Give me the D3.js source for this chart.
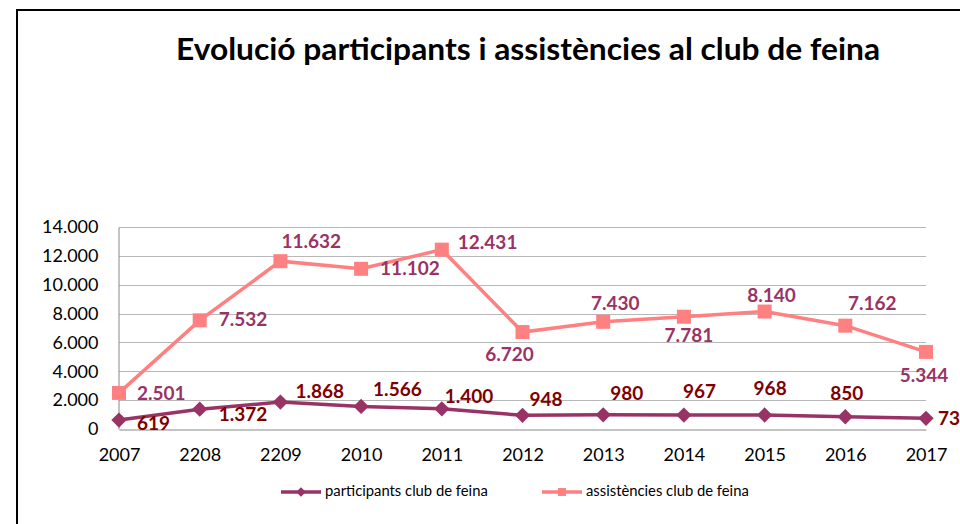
<!DOCTYPE html>
<html>
    <head>
        <script src="https://d3js.org/d3.v7.min.js"></script>
        <style>
            body { margin: 0; background: white; }
            svg text { font-family: Lato, "Open Sans", sans-serif; }
        </style>
    </head>

    <body>

        <div id="chart-container"></div>

        <script>

            // Data
            var years = ["2007", "2208", "2209", "2010", "2011", "2012", "2013", "2014", "2015", "2016", "2017"];
            var participants = [619, 1372, 1868, 1566, 1400, 948, 980, 967, 968, 850, 737];
            var assistencies = [2501, 7532, 11632, 11102, 12431, 6720, 7430, 7781, 8140, 7162, 5344];
            var yTicks = [0, 2000, 4000, 6000, 8000, 10000, 12000, 14000];
            var seriesNames = ["participants club de feina", "assistències club de feina"];

            // label placement (dx, dy from the marker, anchor)
            var partLabelPos = [
                [18, 5, "start"], [19, 7, "start"], [15, -9, "start"], [12, -15, "start"],
                [3, -11, "start"], [7, -14, "start"], [7, -20, "start"], [-1, -22, "start"],
                [-11, -25, "start"], [-15, -22, "start"], [12, 2, "start"]
            ];
            var asstLabelPos = [
                [18, 2, "start"], [19, 1, "start"], [1, -18, "start"], [19, 1, "start"],
                [16, -6, "start"], [-13, 24, "middle"], [12, -17, "middle"], [5, 20, "middle"],
                [7, -14, "middle"], [27, -21, "middle"], [-2, 25, "middle"]
            ];

            var width = 960, height = 524;
            var margin = {top: 227, left: 119, right: 34, bottom: 95};

            var svg = d3.select("#chart-container")
                .append("svg")
                    .attr("width", width)
                    .attr("height", height);

            // outer frame
            svg.append("rect")
                .attr("x", 17)
                .attr("y", 10)
                .attr("width", 1000)
                .attr("height", 600)
                .attr("fill", "white")
                .attr("stroke", "black")
                .attr("stroke-width", 2);

            svg.append("text")
                .attr("x", 528)
                .attr("y", 60)
                .attr("text-anchor", "middle")
                .attr("font-size", 30)
                .attr("font-weight", "bold")
                .attr("textLength", 704)
                .attr("lengthAdjust", "spacingAndGlyphs")
                .text("Evolució participants i assistències al club de feina");

            var x = d3.scalePoint()
                .domain(years)
                .range([margin.left, width - margin.right]);

            var y = d3.scaleLinear()
                .domain([0, 14000])
                .range([height - margin.bottom, margin.top]);

            // gridlines
            svg.append("g")
                .selectAll("line")
                .data(yTicks.slice(1))
                .enter()
                .append("line")
                    .attr("x1", margin.left)
                    .attr("x2", width - margin.right)
                    .attr("y1", function(d) { return Math.round(y(d)) + 0.5; })
                    .attr("y2", function(d) { return Math.round(y(d)) + 0.5; })
                    .attr("stroke", "#b8b8b8")
                    .attr("stroke-width", 1);

            var fmt = function(d) { return d3.format(",")(d).replace(/,/g, "."); };

            // Y axis
            var yAxis = svg.append("g")
                .attr("transform", "translate(" + (margin.left - 0.5) + ",0)")
                .call(d3.axisLeft(y).tickValues(yTicks).tickSize(0).tickPadding(20).tickFormat(fmt));
            yAxis.select(".domain").attr("stroke", "#888888");
            yAxis.selectAll("text")
                .attr("font-size", 18)
                .attr("fill", "black")
                .style("font-family", "Lato");

            // X axis
            var xAxis = svg.append("g")
                .attr("transform", "translate(0," + (Math.round(y(0)) + 0.5) + ")")
                .call(d3.axisBottom(x).tickSize(0).tickPadding(19));
            xAxis.select(".domain").attr("stroke", "#888888");
            xAxis.selectAll("text")
                .attr("font-size", 18)
                .attr("fill", "black")
                .style("font-family", "Lato");

            var line = d3.line()
                .x(function(d, i) { return x(years[i]); })
                .y(function(d) { return y(d); });

            // assistencies series
            svg.append("path")
                .datum(assistencies)
                .attr("fill", "none")
                .attr("stroke", "#ff8080")
                .attr("stroke-width", 3.5)
                .attr("d", line);

            svg.selectAll(".sq")
                .data(assistencies)
                .enter()
                .append("rect")
                    .attr("class", "sq")
                    .attr("x", function(d, i) { return x(years[i]) - 7; })
                    .attr("y", function(d) { return y(d) - 7; })
                    .attr("width", 14)
                    .attr("height", 14)
                    .attr("fill", "#ff8080");

            // participants series
            svg.append("path")
                .datum(participants)
                .attr("fill", "none")
                .attr("stroke", "#993366")
                .attr("stroke-width", 3.5)
                .attr("d", line);

            svg.selectAll(".dm")
                .data(participants)
                .enter()
                .append("path")
                    .attr("class", "dm")
                    .attr("d", d3.symbol().type(d3.symbolDiamond2).size(150))
                    .attr("transform", function(d, i) { return "translate(" + x(years[i]) + "," + y(d) + ")"; })
                    .attr("fill", "#993366");

            svg.selectAll(".lblA")
                .data(assistencies)
                .enter()
                .append("text")
                    .attr("class", "lblA")
                    .attr("x", function(d, i) { return x(years[i]) + asstLabelPos[i][0]; })
                    .attr("y", function(d, i) { return y(d) + asstLabelPos[i][1]; })
                    .attr("text-anchor", function(d, i) { return asstLabelPos[i][2]; })
                    .attr("dominant-baseline", "middle")
                    .attr("font-size", 19)
                    .attr("font-weight", "bold")
                    .attr("fill", "#993366")
                    .text(fmt);

            svg.selectAll(".lblP")
                .data(participants)
                .enter()
                .append("text")
                    .attr("class", "lblP")
                    .attr("x", function(d, i) { return x(years[i]) + partLabelPos[i][0]; })
                    .attr("y", function(d, i) { return y(d) + partLabelPos[i][1]; })
                    .attr("text-anchor", function(d, i) { return partLabelPos[i][2]; })
                    .attr("dominant-baseline", "middle")
                    .attr("font-size", 19)
                    .attr("font-weight", "bold")
                    .attr("fill", "#800000")
                    .text(fmt);

            // Legend
            var legendX = [281, 542];
            var legendColors = ["#993366", "#ff8080"];
            var legend = svg.selectAll(".legend")
                .data(seriesNames)
                .enter()
                .append("g")
                    .attr("transform", function(d, i) { return "translate(" + legendX[i] + ",492)"; });

            legend.append("line")
                .attr("x1", 0)
                .attr("x2", 40)
                .attr("stroke", function(d, i) { return legendColors[i]; })
                .attr("stroke-width", 3.5);

            legend.append("path")
                .attr("d", function(d, i) {
                    return i == 0 ? d3.symbol().type(d3.symbolDiamond2).size(60)() : d3.symbol().type(d3.symbolSquare2).size(80)();
                })
                .attr("transform", "translate(20,0)")
                .attr("fill", function(d, i) { return legendColors[i]; });

            legend.append("text")
                .attr("x", 44)
                .attr("dominant-baseline", "middle")
                .attr("font-size", 14.8)
                .attr("fill", "black")
                .text(function(d) { return d; });

        </script>
    </body>
</html>
